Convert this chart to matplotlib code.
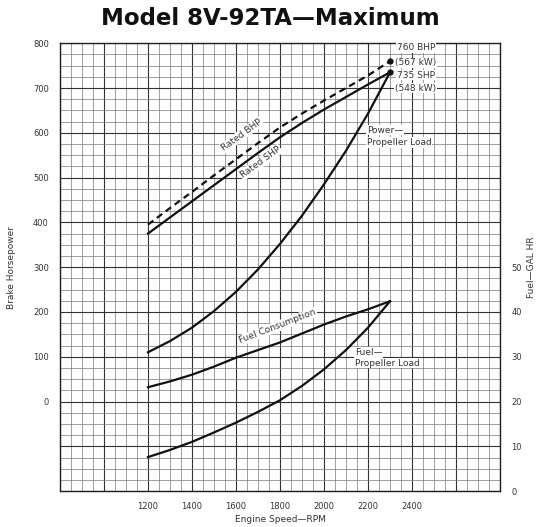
import numpy as np
import matplotlib.pyplot as plt

# engine speed points (RPM)
rpm = [1200, 1300, 1400, 1500, 1600, 1700, 1800, 1900, 2000, 2100, 2200, 2300]

# brake horsepower curves
rated_bhp = [395, 432, 468, 505, 541, 577, 612, 643, 672, 700, 728, 760]
rated_shp = [375, 411, 447, 483, 519, 555, 590, 622, 652, 680, 708, 735]
power_prop = [110, 135, 165, 202, 245, 295, 352, 415, 485, 560, 643, 735]

# fuel curves (gal/hr)
fuel_cons = [23.2, 24.5, 26.0, 27.8, 29.8, 31.5, 33.2, 35.2, 37.2, 39.0, 40.6, 42.4]
fuel_prop = [7.6, 9.2, 11.0, 13.1, 15.3, 17.7, 20.3, 23.5, 27.2, 31.5, 36.5, 42.4]

x_ticks = [1200, 1400, 1600, 1800, 2000, 2200, 2400]
hp_ticks = [0, 100, 200, 300, 400, 500, 600, 700, 800]
fuel_ticks = [0, 10, 20, 30, 40, 50]

fig = plt.figure(figsize=(5.4, 5.27), dpi=100)
ax = fig.add_axes([0.111, 0.068, 0.815, 0.850])

ax.set_xlim(800, 2800)
ax.set_ylim(-200, 800)

# graph paper grid
for x in np.arange(800, 2801, 50):
    heavy = (x % 200 == 0)
    ax.axvline(x, color='#333333' if heavy else '#777777',
               lw=0.8 if heavy else 0.5, zorder=0)
for y in np.arange(-200, 801, 25):
    heavy = (y % 100 == 0)
    ax.axhline(y, color='#333333' if heavy else '#777777',
               lw=0.8 if heavy else 0.5, zorder=0)

ax.plot(rpm, rated_bhp, color='#111111', lw=1.6, ls=(0, (3, 2)), zorder=3)
ax.plot(rpm, rated_shp, color='#111111', lw=1.6, zorder=3)
ax.plot(rpm, power_prop, color='#111111', lw=1.6, zorder=3)
ax.plot([rpm[-1], rpm[-1]], [rated_bhp[-1], rated_shp[-1]], 'o',
        color='#111111', ms=3.5, zorder=4)

ax.set_xticks(x_ticks)
ax.set_xticklabels([str(v) for v in x_ticks], fontsize=6, color='#333333')
ax.set_yticks(hp_ticks)
ax.set_yticklabels([str(v) for v in hp_ticks], fontsize=6, color='#333333')
ax.tick_params(length=0, pad=8)
for s in ax.spines.values():
    s.set_linewidth(1.0)
    s.set_color('#222222')

ax.set_xlabel('Engine Speed\u2014RPM', fontsize=6.5, color='#333333', labelpad=3)
ax.set_ylabel('Brake Horsepower', fontsize=6.5, color='#333333', labelpad=12)

ax2 = ax.twinx()
ax2.set_ylim(0, 100)
ax2.plot(rpm, fuel_cons, color='#111111', lw=1.6, zorder=3)
ax2.plot(rpm, fuel_prop, color='#111111', lw=1.6, zorder=3)
ax2.set_yticks(fuel_ticks)
ax2.set_yticklabels([str(v) for v in fuel_ticks], fontsize=6, color='#333333')
ax2.tick_params(length=0, pad=8)
ax2.set_ylabel('Fuel\u2014GAL HR', fontsize=6.5, color='#333333', labelpad=4)
for s in ax2.spines.values():
    s.set_visible(False)

box = dict(facecolor='white', edgecolor='none', pad=0.6)
txt = dict(fontsize=6.5, color='#333333', zorder=5)
ax.text(2332, 790, '760 BHP', va='center', bbox=box, **txt)
ax.text(2323, 756, '(567 kW)', va='center', bbox=box, **txt)
ax.text(2332, 729, '735 SHP', va='center', bbox=box, **txt)
ax.text(2323, 700, '(548 kW)', va='center', bbox=box, **txt)
ax.text(2195, 606, 'Power\u2014', va='center', bbox=box, **txt)
ax.text(2195, 579, 'Propeller Load', va='center', bbox=box, **txt)
ax.text(1625, 595, 'Rated BHP', rotation=36, ha='center', va='center',
        bbox=box, **txt)
ax.text(1712, 534, 'Rated SHP', rotation=36, ha='center', va='center',
        bbox=box, **txt)
ax.text(1790, 168, 'Fuel Consumption', rotation=21, ha='center', va='center',
        bbox=box, **txt)
ax.text(2140, 110, 'Fuel\u2014', va='center', bbox=box, **txt)
ax.text(2140, 86, 'Propeller Load', va='center', bbox=box, **txt)

fig.text(0.5, 0.965, 'Model 8V-92TA\u2014Maximum', ha='center', va='center',
         fontsize=16.5, fontweight='heavy', color='#111111')

fig.savefig('out.png', dpi=100, facecolor='white')
